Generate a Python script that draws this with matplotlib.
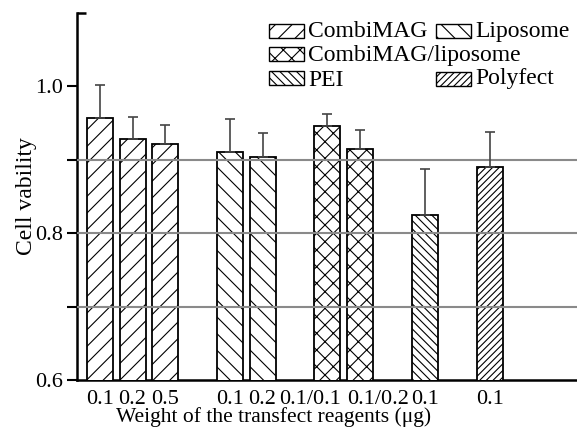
import numpy as np
import matplotlib.pyplot as plt
import matplotlib.transforms as mtransforms
from matplotlib.patches import Rectangle

plt.rcParams['font.family'] = ['Liberation Serif', 'DejaVu Serif']
plt.rcParams['hatch.linewidth'] = 0.8
plt.rcParams['hatch.color'] = '#444444'

# bar data
groups = ['CombiMAG', 'CombiMAG', 'CombiMAG', 'Liposome', 'Liposome',
          'CombiMAG/liposome', 'CombiMAG/liposome', 'PEI', 'Polyfect']
positions = [0, 1, 2, 4, 5, 7, 8, 10, 12]
tick_labels = ['0.1', '0.2', '0.5', '0.1', '0.2', '0.1/0.1', '0.1/0.2', '0.1', '0.1']
viability = [0.957, 0.929, 0.921, 0.910, 0.904, 0.946, 0.915, 0.825, 0.890]
errors = [0.045, 0.029, 0.026, 0.046, 0.033, 0.016, 0.026, 0.062, 0.048]

hatches = {'CombiMAG': '//', 'Liposome': '\\\\', 'CombiMAG/liposome': 'xx',
           'PEI': '\\\\\\\\', 'Polyfect': '/////'}

fig = plt.figure(figsize=(5.77, 4.33), dpi=100)
ax = fig.add_axes([77/577, 1-380/433, 1-77/577, (380-13)/433])

for i in range(len(positions)):
    ax.bar(positions[i], viability[i], width=0.8, bottom=0, color='white',
           edgecolor='black', linewidth=1.3, hatch=hatches[groups[i]], zorder=3)
    ax.errorbar(positions[i], viability[i], yerr=[[0], [errors[i]]], fmt='none',
                ecolor='#444444', elinewidth=1.2, capsize=3.5, capthick=1.2, zorder=4)

ax.set_ylim(0.6, 1.1)
ax.set_xlim(-0.71, 14.68)
ax.set_yticks([0.6, 0.8, 1.0])
ax.set_yticklabels(['0.6', '0.8', '1.0'])
ax.set_yticks([0.7, 0.9], minor=True)
for g in [0.7, 0.8, 0.9]:
    ax.axhline(g, color='#8a8a8a', linewidth=1.5, zorder=3.5)
ax.set_xticks(positions)
ax.set_xticklabels(tick_labels)
ax.tick_params(axis='x', length=0, labelsize=16, pad=7)
ax.tick_params(axis='y', which='both', direction='out', length=7, width=1.5,
               labelsize=16, pad=3)

# the two wide labels sit a bit apart in the original
xt = ax.get_xticklabels()
xt[5].set_transform(xt[5].get_transform() + mtransforms.ScaledTranslation(-0.17, 0, fig.dpi_scale_trans))
xt[6].set_transform(xt[6].get_transform() + mtransforms.ScaledTranslation(0.18, 0, fig.dpi_scale_trans))

ax.spines['top'].set_visible(False)
ax.spines['right'].set_visible(False)
ax.spines['left'].set_linewidth(1.8)
ax.spines['bottom'].set_linewidth(1.8)
# small stub at the top of the y axis
ax.plot([0, 0.018], [1, 1], transform=ax.transAxes, color='black',
        linewidth=1.8, clip_on=False, solid_capstyle='butt')

ax.set_ylabel('Cell vability', fontsize=17)
ax.yaxis.set_label_coords(-0.08, 0.5)
ax.set_xlabel('Weight of the transfect reagents (\u03bcg)', fontsize=15.5)
ax.xaxis.set_label_coords(0.394, -0.074)

# legend drawn by hand to follow the original layout
legend_items = [('CombiMAG', 269, 31, 37), ('Liposome', 436, 31, 37),
                ('CombiMAG/liposome', 269, 54, 61), ('PEI', 269, 78, 86),
                ('Polyfect', 436, 79, 84)]
W, H = 577.0, 433.0
for name, px, py, base in legend_items:
    fig.patches.append(Rectangle((px/W, 1-(py+6.5)/H), 35/W, 13/H,
                                 transform=fig.transFigure, facecolor='white',
                                 edgecolor='black', linewidth=1.0,
                                 hatch=hatches[name]))
    fig.text((px+39)/W, 1-base/H, name, fontsize=17, va='baseline', ha='left')

fig.savefig('out.png', dpi=100)
